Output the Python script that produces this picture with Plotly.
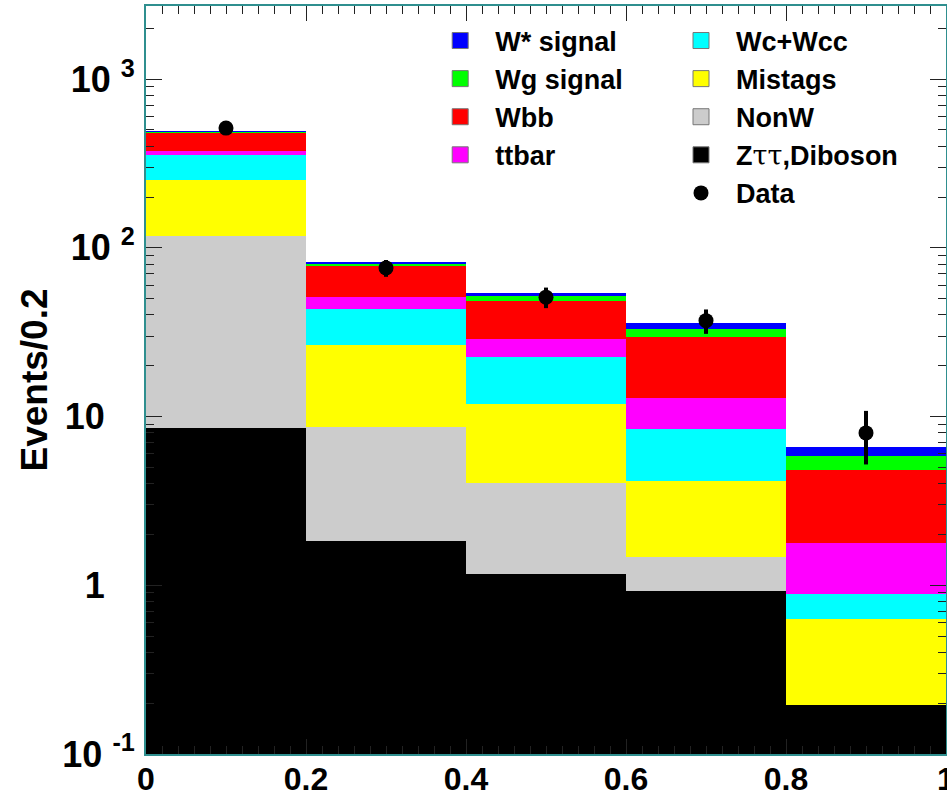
import plotly.graph_objects as go

# ---- data ----
bin_centers = [0.1, 0.3, 0.5, 0.7, 0.9]
bin_width = 0.2

ztt_diboson = [8.5, 1.84, 1.17, 0.92, 0.195]
nonw = [108.5, 6.8, 2.85, 0.56, 0.0]
mistags = [135.0, 18.0, 7.9, 2.69, 0.44]
wc_wcc = [102.0, 17.0, 10.6, 4.28, 0.25]
ttbar = [20.0, 7.5, 6.1, 4.45, 0.89]
wbb = [111.0, 26.9, 19.7, 16.7, 3.07]
wg_signal = [1.5, 2.9, 3.7, 3.6, 0.99]
wstar_signal = [1.0, 1.9, 2.2, 2.8, 0.73]

data_counts = [512, 76, 51, 37, 8]
data_errors = [22.6, 8.7, 7.1, 6.1, 2.8]

x_tickvals = [0.0, 0.2, 0.4, 0.6, 0.8, 1.0]
x_ticktext = ["0", "0.2", "0.4", "0.6", "0.8", "1"]
x_secondary_ticks = [0.1, 0.3, 0.5, 0.7, 0.9]
PAD = "\u00a0\u00a0\u00a0"
y_tickvals = [0.1, 1, 10, 100, 1000]
y_ticktext = ["10 <sup>-1</sup>", "1" + PAD, "10" + PAD, "10 <sup>2</sup>", "10 <sup>3</sup>"]

# stack order bottom -> top : (name, values, colour, legend)
stack = [
    ("Z<span style='font-family:DejaVu Serif;font-weight:normal'>\u03c4\u03c4</span>,Diboson", ztt_diboson, "#000000", "legend2"),
    ("NonW", nonw, "#cccccc", "legend2"),
    ("Mistags", mistags, "#ffff00", "legend2"),
    ("Wc+Wcc", wc_wcc, "#00ffff", "legend2"),
    ("ttbar", ttbar, "#ff00ff", "legend"),
    ("Wbb", wbb, "#ff0000", "legend"),
    ("Wg signal", wg_signal, "#00ff00", "legend"),
    ("W* signal", wstar_signal, "#0000ff", "legend"),
]

FONT = "Liberation Sans, Arial, Helvetica, sans-serif"
TICKC = "#222222"
LEGSIZE = 27

fig = go.Figure()
for name, vals, col, lg in stack:
    fig.add_trace(go.Bar(
        x=bin_centers, y=vals, width=bin_width, name=name,
        marker=dict(color=col, line=dict(width=0)),
        showlegend=False, legendgroup=name,
    ))

# legend entries (column 1 then column 2, top to bottom)
legend_order = [7, 6, 5, 4, 3, 2, 1, 0]
for i in legend_order:
    name, vals, col, lg = stack[i]
    fig.add_trace(go.Scatter(
        x=[None], y=[None], mode="markers", name=name, legend=lg,
        legendgroup=name,
        marker=dict(symbol="square", size=16, color=col,
                    line=dict(width=1, color="#777777")),
    ))

fig.add_trace(go.Scatter(
    x=bin_centers, y=data_counts, mode="markers", name="Data", legend="legend2",
    marker=dict(color="black", size=15),
    error_y=dict(type="data", array=data_errors, color="black", thickness=4, width=0),
))

minor_y = [k * 10.0 ** e for e in range(-1, 4) for k in range(2, 10)]

fig.update_layout(
    width=947, height=796,
    margin=dict(l=146, r=1, t=6, b=42),
    paper_bgcolor="white", plot_bgcolor="white",
    barmode="stack", bargap=0,
    font=dict(family=FONT, color="black", weight="bold"),
    legend=dict(x=0.349, y=0.986, xanchor="left", yanchor="top",
                font=dict(size=LEGSIZE, family=FONT, weight="bold"),
                bgcolor="rgba(0,0,0,0)", traceorder="normal", itemwidth=60),
    legend2=dict(x=0.65, y=0.986, xanchor="left", yanchor="top",
                 font=dict(size=LEGSIZE, family=FONT, weight="bold"),
                 bgcolor="rgba(0,0,0,0)", traceorder="normal", itemwidth=60),
    xaxis=dict(range=[0, 1], showgrid=False, zeroline=False,
               tickmode="array", tickvals=x_tickvals, ticktext=x_ticktext,
               ticks="inside", ticklen=15, tickwidth=1, tickcolor=TICKC,
               minor=dict(ticks="inside", dtick=0.02, ticklen=8, tickcolor=TICKC),
               showline=True, linecolor="#2f8f8f", linewidth=2, mirror="allticks",
               tickfont=dict(size=32, family=FONT, weight="bold"),
               ticklabelstandoff=-4, ticklabeloverflow="allow", automargin=False),
    xaxis2=dict(overlaying="x", anchor="y", side="bottom", range=[0, 1],
                showgrid=False, zeroline=False, showline=False,
                tickmode="array", tickvals=x_secondary_ticks, showticklabels=False,
                ticks="inside", ticklen=15, tickwidth=1, tickcolor=TICKC,
                mirror="allticks", automargin=False),
    yaxis=dict(type="log", range=[-1, 3.433], showgrid=False, zeroline=False,
               tickmode="array", tickvals=y_tickvals, ticktext=y_ticktext,
               ticks="inside", ticklen=16, tickwidth=1, tickcolor=TICKC,
               minor=dict(ticks="inside", tickmode="array", tickvals=minor_y,
                          ticklen=8, tickcolor=TICKC),
               showline=True, linecolor="#2f8f8f", linewidth=2, mirror="allticks",
               tickfont=dict(size=36, family=FONT, weight="bold"),
               ticklabelstandoff=2, automargin=False,
               title=dict(text="Events/0.2", standoff=3,
                          font=dict(size=37, family=FONT, weight="bold"))),
)

fig.write_html("out.html", config={"displayModeBar": False},
               post_script="document.body.style.margin='0px';")
